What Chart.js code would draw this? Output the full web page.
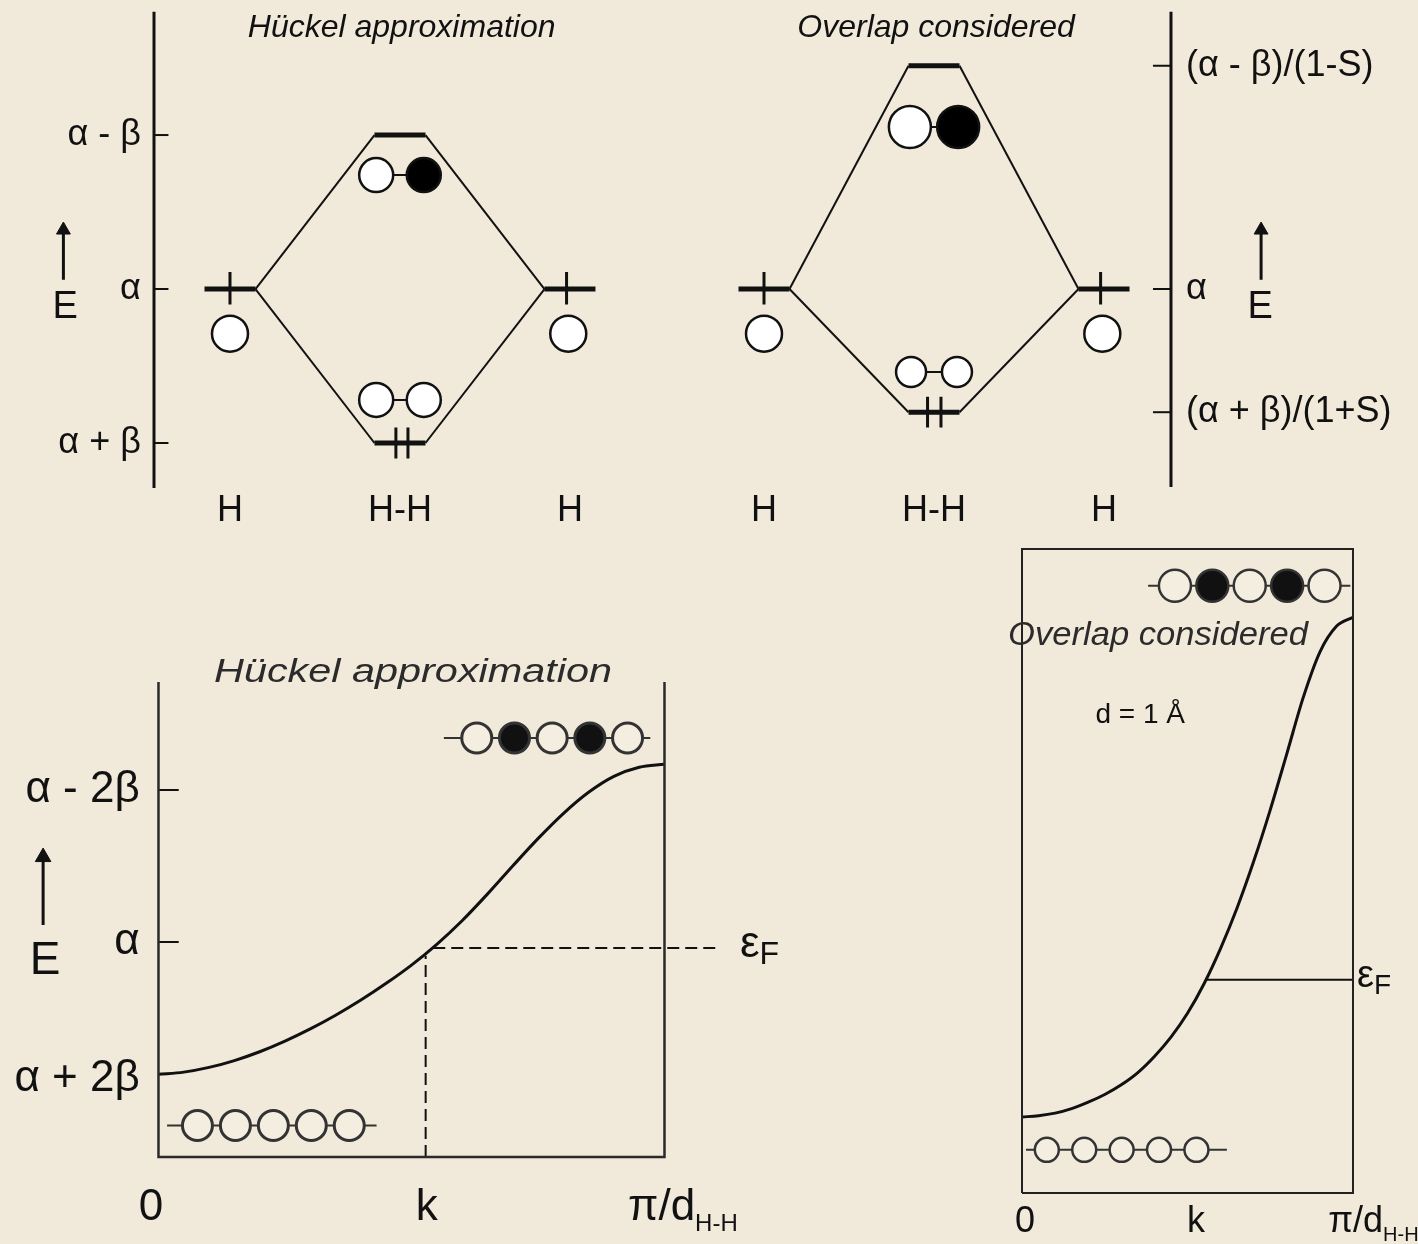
<!DOCTYPE html>
<html lang="en">
<head>
<meta charset="UTF-8">
<title>H2 orbitals and the H chain band</title>
<script src="https://cdn.jsdelivr.net/npm/chart.js"></script>
<style>
    body {
        margin: 0;
        width: 1418px;
        height: 1244px;
        overflow: hidden;
        position: relative;
        background-color: #f1eadb;
    }
    canvas { position: absolute; }
    #mo-huckel { left: 0; top: 0; }
    #mo-overlap { left: 700px; top: 0; }
    #band-huckel { left: 0; top: 540px; }
    #band-overlap { left: 990px; top: 540px; }
</style>
</head>
<body>
<canvas id="mo-huckel" width="700" height="540"></canvas>
<canvas id="mo-overlap" width="718" height="540"></canvas>
<canvas id="band-huckel" width="800" height="704"></canvas>
<canvas id="band-overlap" width="428" height="704"></canvas>

<script>
// ---------- data ----------
// MO diagrams: x = fragment, energies in units of |beta| measured from alpha
const moLabels = ['H', 'H-H', 'H'];
const moPositions = [-1, 0, 1];

const huckelTickValues = [1, 0, -1];
const huckelTickLabels = ['α - β', 'α', 'α + β'];
const huckelLevels = [0, 1, -1];          // atom, antibonding, bonding

const overlapTickValues = [1.45, 0, -0.8];
const overlapTickLabels = ['(α - β)/(1-S)', 'α', '(α + β)/(1+S)'];
const overlapLevels = [0, 1.45, -0.8];    // atom, antibonding, bonding

// orbital phases (+1 white lobe, -1 black lobe)
const antibondingPhase = [1, -1];
const bondingPhase = [1, 1];
const chainBottomPhase = [1, 1, 1, 1, 1];
const chainTopPhase = [1, -1, 1, -1, 1];

// band of the H chain, k in units of pi/d
const bandK = [0, 0.05, 0.1, 0.15, 0.2, 0.25, 0.3, 0.35, 0.4, 0.45, 0.5,
               0.55, 0.6, 0.65, 0.7, 0.75, 0.8, 0.85, 0.9, 0.95, 1];
// Hückel band, in units of 2|beta| from alpha
const huckelE = [-0.87, -0.856, -0.825, -0.78, -0.722, -0.652, -0.572, -0.482, -0.382, -0.272, -0.152,
                 -0.015, 0.14, 0.315, 0.5, 0.68, 0.845, 0.985, 1.09, 1.15, 1.17];
const huckelBandTicks = [1, 0, -0.9];
const huckelBandLabels = ['α - 2β', 'α', 'α + 2β'];
const huckelFermiE = -0.04;
const huckelFermiK = 0.528;

// band with overlap, d = 1 Å (arbitrary energy units, box 0-10)
const overlapE = [1.18, 1.2, 1.24, 1.31, 1.41, 1.53, 1.68, 1.87, 2.12, 2.42, 2.79,
                  3.25, 3.8, 4.43, 5.15, 5.95, 6.82, 7.7, 8.4, 8.8, 8.94];
const overlapFermiE = 3.31;
const overlapFermiK = 0.553;

const kLabels = ['0', 'k', 'π/d'];
const kLabelPos = [0, 0.53, 0.93];

// ---------- helpers ----------
const FONT = '"Liberation Sans", Arial, Helvetica, sans-serif';
const INK = '#111';
const BG = '#f4eee1';

const lobe = s => (s > 0 ? '#fff' : '#000');
const chainLobe = s => (s > 0 ? BG : '#111');

function seg(pts, width, opts = {}) {
    return Object.assign({
        type: 'scatter',
        showLine: true,
        data: pts.map(([x, y]) => ({ x, y })),
        borderColor: INK,
        borderWidth: width,
        pointRadius: 0,
        tension: 0,
        clip: false,
        order: 5
    }, opts);
}

function dots(xs, ys, r, fill, opts = {}) {
    return Object.assign({
        type: 'scatter',
        showLine: false,
        data: xs.map((x, i) => ({ x, y: ys[i] })),
        pointRadius: r,
        pointStyle: 'circle',
        pointBackgroundColor: fill,
        pointBorderColor: INK,
        pointBorderWidth: 2.5,
        clip: false,
        order: 0
    }, opts);
}

// vertical arrow, tip at tipY; ppu = pixels per y unit
function arrow(x, y0, tipY, ppu, r = 8) {
    const c = tipY - r / ppu;
    return [
        seg([[x, y0], [x, c]], 3),
        dots([x], [c], r, INK, { pointStyle: 'triangle', pointBorderWidth: 1 })
    ];
}

function text(chart, s, x, y, o = {}) {
    const ctx = chart.ctx;
    const px = chart.scales.x.getPixelForValue(x);
    const py = chart.scales.y.getPixelForValue(y);
    ctx.save();
    ctx.font = o.font || ('36px ' + FONT);
    ctx.fillStyle = o.color || INK;
    ctx.textAlign = o.align || 'center';
    ctx.textBaseline = 'middle';
    const w = ctx.measureText(s).width;
    if (o.fit) {
        ctx.translate(px, py);
        ctx.scale(o.fit / w, 1);
        ctx.fillText(s, 0, 0);
    } else {
        ctx.fillText(s, px, py);
    }
    ctx.restore();
    return w;
}

// main text followed by a subscript (left aligned)
function subText(chart, main, sub, x, y, font, subFont, dy) {
    const ctx = chart.ctx;
    const px = chart.scales.x.getPixelForValue(x);
    const py = chart.scales.y.getPixelForValue(y);
    ctx.save();
    ctx.fillStyle = INK;
    ctx.textAlign = 'left';
    ctx.textBaseline = 'middle';
    ctx.font = font;
    ctx.fillText(main, px, py);
    const w = ctx.measureText(main).width;
    ctx.font = subFont;
    ctx.fillText(sub, px + w, py + dy);
    ctx.restore();
}

function makeChart(id, xr, yr, datasets, draw) {
    return new Chart(document.getElementById(id), {
        type: 'scatter',
        data: { datasets },
        options: {
            responsive: false,
            animation: false,
            events: [],
            layout: { padding: 0, autoPadding: false },
            plugins: { legend: { display: false }, tooltip: { enabled: false } },
            scales: {
                x: { type: 'linear', min: xr[0], max: xr[1], display: false },
                y: { type: 'linear', min: yr[0], max: yr[1], display: false }
            }
        },
        plugins: [{ id: 'labels', afterDatasetsDraw: chart => draw(chart) }]
    });
}

// MO diagram datasets shared by the two upper panels
function moDatasets(levels, spinsX, orb) {
    const [atom, anti, bond] = levels;
    return [
        // energy levels
        seg([[-1.15, atom], [-0.85, atom]], 5),
        seg([[0.85, atom], [1.15, atom]], 5),
        seg([[-0.15, anti], [0.15, anti]], 5),
        seg([[-0.15, bond], [0.15, bond]], 5),
        // correlation lines
        seg([[-0.85, atom], [-0.15, anti]], 2),
        seg([[0.15, anti], [0.85, atom]], 2),
        seg([[-0.85, atom], [-0.15, bond]], 2),
        seg([[0.15, bond], [0.85, atom]], 2),
        // electrons
        seg([[moPositions[0], atom + 0.11], [moPositions[0], atom - 0.1]], 3),
        seg([[moPositions[2] - 0.02, atom + 0.11], [moPositions[2] - 0.02, atom - 0.1]], 3),
        seg([[spinsX[0], bond + 0.1], [spinsX[0], bond - 0.1]], 3),
        seg([[spinsX[1], bond + 0.1], [spinsX[1], bond - 0.1]], 3),
        // atomic orbitals
        dots([moPositions[0], moPositions[2] - 0.01], [atom - 0.29, atom - 0.29], 18, '#fff'),
        // antibonding combination
        seg([[-orb.ax, orb.ay], [orb.ax, orb.ay]], 2),
        dots([-orb.ax, orb.ax], [orb.ay, orb.ay], orb.ar, antibondingPhase.map(lobe)),
        // bonding combination
        seg([[-orb.bx, orb.by], [orb.bx, orb.by]], 2),
        dots([-orb.bx, orb.bx], [orb.by, orb.by], orb.br, bondingPhase.map(lobe))
    ];
}

// ---------- upper left: Hückel ----------
const axA = -1.447;
makeChart('mo-huckel', [-2.353, 1.765], [-1.63, 1.877], [
    seg([[axA, 1.8], [axA, -1.292]], 3),
    ...huckelTickValues.map(v => seg([[axA, v], [axA + 0.085, v]], 2)),
    ...arrow(-1.98, 0.06, 0.435, 154),
    ...moDatasets(huckelLevels, [-0.024, 0.047],
        { ax: 0.14, ay: huckelLevels[1] - 0.26, ar: 17, bx: 0.14, by: huckelLevels[2] + 0.28, br: 17 })
], chart => {
    text(chart, 'Hückel approximation', 0.01, 1.695, { font: 'italic 32px ' + FONT });
    huckelTickLabels.forEach((s, i) =>
        text(chart, s, -1.524, huckelTickValues[i], { align: 'right' }));
    text(chart, 'E', -1.97, -0.123, { font: '38px ' + FONT });
    moLabels.forEach((s, i) => text(chart, s, moPositions[i], -1.442));
});

// ---------- upper right: overlap considered ----------
const axB = 1.394;
makeChart('mo-overlap', [-1.3765, 2.847], [-1.63, 1.877], [
    seg([[axB, 1.8], [axB, -1.286]], 3),
    ...overlapTickValues.map(v => seg([[axB - 0.106, v], [axB, v]], 2)),
    ...arrow(1.924, 0.06, 0.435, 154),
    ...moDatasets(overlapLevels, [-0.038, 0.041],
        { ax: 0.142, ay: overlapLevels[1] - 0.398, ar: 21, bx: 0.135, by: overlapLevels[2] + 0.261, br: 15 })
], chart => {
    text(chart, 'Overlap considered', 0.012, 1.695, { font: 'italic 32px ' + FONT });
    overlapTickLabels.forEach((s, i) =>
        text(chart, s, 1.482, overlapTickValues[i], { align: 'left' }));
    text(chart, 'E', 1.918, -0.123, { font: '38px ' + FONT });
    moLabels.forEach((s, i) => text(chart, s, moPositions[i], -1.442));
});

// ---------- lower left: band, Hückel ----------
const boxTopC = 1.711, boxBottomC = -1.414;
makeChart('band-huckel', [-0.3132, 1.2678], [-1.9868, 2.6447], [
    seg([[0, boxTopC], [0, boxBottomC], [1, boxBottomC], [1, boxTopC]], 2.5, { borderColor: '#2a2a2a' }),
    // tick marks only for alpha - 2beta and alpha
    ...huckelBandTicks.slice(0, 2).map(v => seg([[0, v], [0.04, v]], 2)),
    seg(bandK.map((k, i) => [k, huckelE[i]]), 3, { cubicInterpolationMode: 'monotone' }),
    seg([[huckelFermiK, boxBottomC], [huckelFermiK, huckelFermiE - 0.05]], 2, { borderDash: [12, 6] }),
    seg([[huckelFermiK + 0.015, huckelFermiE], [1.108, huckelFermiE]], 2, { borderDash: [12, 6] }),
    ...arrow(-0.228, 0.112, 0.618, 152, 9),
    seg([[0.017, -1.207], [0.431, -1.207]], 2, { borderColor: '#333' }),
    dots(chainBottomPhase.map((_, i) => 0.077 + i * 0.075), chainBottomPhase.map(() => -1.207), 15,
        chainBottomPhase.map(chainLobe), { pointBorderColor: '#333', pointBorderWidth: 3 }),
    seg([[0.564, 1.342], [0.972, 1.342]], 2, { borderColor: '#333' }),
    dots(chainTopPhase.map((_, i) => 0.629 + i * 0.0745), chainTopPhase.map(() => 1.342), 15,
        chainTopPhase.map(chainLobe), { pointBorderColor: '#333', pointBorderWidth: 3 })
], chart => {
    text(chart, 'Hückel approximation', 0.503, 1.77, { font: 'italic 34px ' + FONT, fit: 398, color: '#2b2b2b' });
    huckelBandLabels.forEach((s, i) =>
        text(chart, s, -0.037, huckelBandTicks[i], { align: 'right', font: '44px ' + FONT }));
    text(chart, 'E', -0.224, -0.13, { font: '46px ' + FONT });
    text(chart, kLabels[0], kLabelPos[0] - 0.015, -1.75, { font: '44px ' + FONT });
    text(chart, kLabels[1], kLabelPos[1], -1.75, { font: '44px ' + FONT });
    subText(chart, kLabels[2], 'H-H', kLabelPos[2] - 0.002, -1.75, '44px ' + FONT, '24px ' + FONT, 16);
    subText(chart, 'ε', 'F', 1.149, huckelFermiE + 0.02, '44px ' + FONT, '32px ' + FONT, 10);
});

// ---------- lower right: band with overlap ----------
makeChart('band-overlap', [-0.0967, 1.1964], [-0.792, 10.14], [
    seg([[0, 0], [1, 0], [1, 10], [0, 10], [0, 0]], 2, { borderColor: '#222' }),
    seg(bandK.map((k, i) => [k, overlapE[i]]), 3, { cubicInterpolationMode: 'monotone' }),
    seg([[overlapFermiK, overlapFermiE], [1, overlapFermiE]], 2),
    seg([[0.012, 0.67], [0.619, 0.67]], 2, { borderColor: '#333' }),
    dots(chainBottomPhase.map((_, i) => 0.075 + i * 0.113), chainBottomPhase.map(() => 0.67), 12,
        chainBottomPhase.map(chainLobe), { pointBorderColor: '#333' }),
    seg([[0.381, 9.43], [0.992, 9.43]], 2, { borderColor: '#333' }),
    dots(chainTopPhase.map((_, i) => 0.462 + i * 0.113), chainTopPhase.map(() => 9.43), 16,
        chainTopPhase.map(chainLobe), { pointBorderColor: '#333' })
], chart => {
    text(chart, 'Overlap considered', 0.411, 8.65, { font: 'italic 34px ' + FONT, fit: 300, color: '#2b2b2b' });
    text(chart, 'd = 1 Å', 0.357, 7.42, { font: '28px ' + FONT });
    text(chart, kLabels[0], kLabelPos[0] + 0.009, -0.45, { font: '36px ' + FONT });
    text(chart, kLabels[1], kLabelPos[1] - 0.004, -0.45, { font: '36px ' + FONT });
    subText(chart, kLabels[2], 'H-H', kLabelPos[2] - 0.005, -0.45, '36px ' + FONT, '20px ' + FONT, 14);
    subText(chart, 'ε', 'F', 1.012, overlapFermiE + 0.05, '38px ' + FONT, '28px ' + FONT, 10);
});
</script>
</body>
</html>
